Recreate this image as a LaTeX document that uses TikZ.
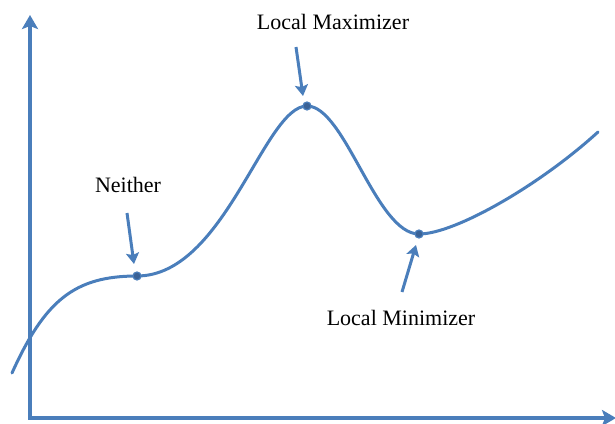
\documentclass[tikz,border=0pt]{standalone}
\usepackage{fontspec}
\setmainfont{Liberation Serif}
\usepackage{tikz}
\usetikzlibrary{arrows.meta,positioning}

\definecolor{curveblue}{HTML}{4A7EBB}
\definecolor{dotblue}{HTML}{3A6296}

\begin{document}
\begin{tikzpicture}[
    x=1pt, y=-1pt,
    axis/.style={line width=4pt, curveblue, -{Stealth[inset=3pt, length=14pt, width=16pt]}},
    curve/.style={line width=3pt, curveblue, line cap=round},
    pointer/.style={line width=3pt, curveblue, -{Stealth[inset=2pt, length=11pt, width=13pt]}},
    crit/.style={circle, draw=curveblue, fill=dotblue, line width=1.2pt, inner sep=0pt, minimum size=8pt},
    label/.style={font=\fontsize{22}{24}\selectfont, text=black}
]
\useasboundingbox (0,0) rectangle (615,423);

% Axes
\coordinate (origin) at (30,418);
\coordinate (ytop) at (30,15);
\coordinate (xend) at (616,418);
\draw[axis] (origin) -- (ytop);
\draw[axis] ([xshift=-2pt]origin) -- (xend);

% Curve through the critical points
\coordinate (start) at (12,373);
\coordinate (flat) at (137,276);
\coordinate (peak) at (307,106);
\coordinate (valley) at (419,234);
\coordinate (finish) at (598,132);
\draw[curve] (start) .. controls (45,300) and (75,276) .. (flat)
    .. controls (225,276) and (264,106) .. (peak)
    .. controls (345,106) and (376,234) .. (valley)
    .. controls (455,234) and (540,185) .. (finish);

% Critical points
\node[crit] (neither) at (flat) {};
\node[crit] (maxpt) at (peak) {};
\node[crit] (minpt) at (valley) {};

% Labels
\node[label] (neitherlbl) at (128,185) {Neither};
\node[label] (maxlbl) at (333,22) {Local Maximizer};
\node[label] (minlbl) at (401,318) {Local Minimizer};

% Pointers
\coordinate (neithertail) at (127,213);
\coordinate (neithertip) at (134,264);
\coordinate (maxtail) at (296,47);
\coordinate (maxtip) at (303,96);
\coordinate (mintail) at (402,292);
\coordinate (mintip) at (416,245);
\draw[pointer] (neithertail) -- (neithertip);
\draw[pointer] (maxtail) -- (maxtip);
\draw[pointer] (mintail) -- (mintip);

\end{tikzpicture}
\end{document}
